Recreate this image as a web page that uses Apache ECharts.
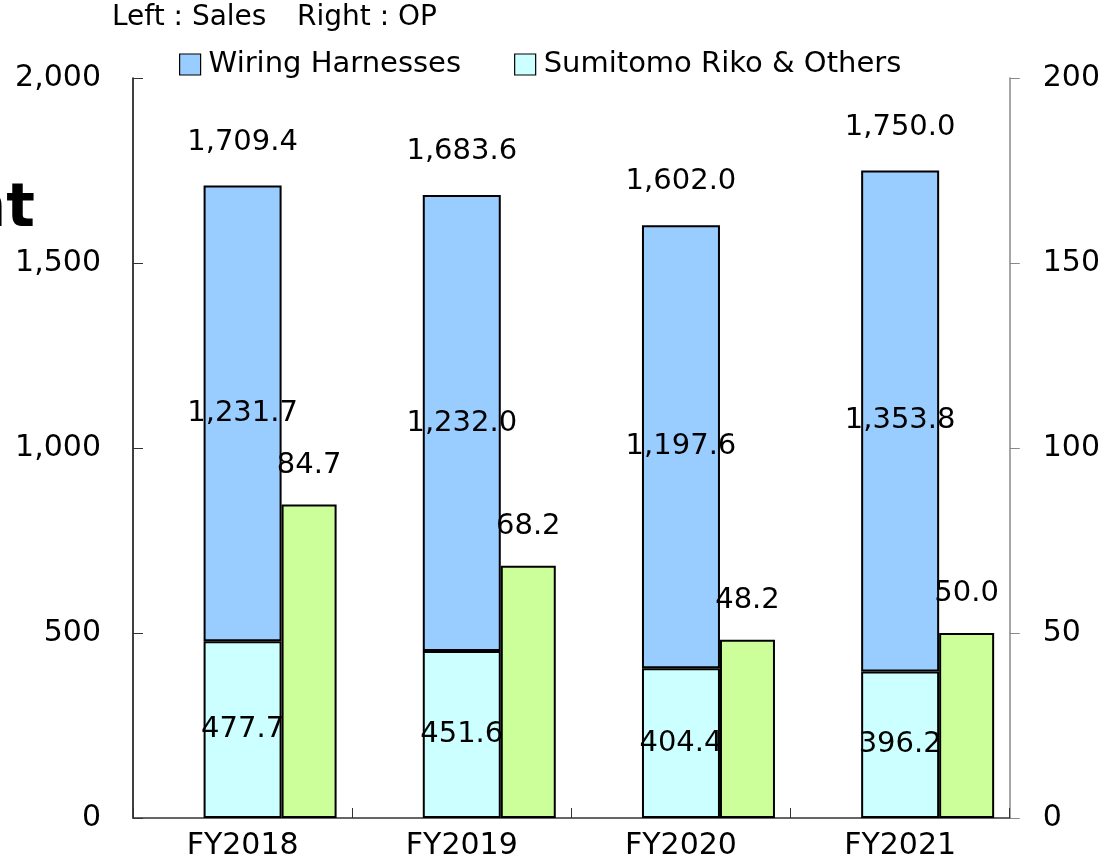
<!DOCTYPE html>
<html>
<head>
<meta charset="utf-8">
<script src="https://cdn.jsdelivr.net/npm/echarts@6/dist/echarts.min.js"></script>
<style>
html,body{margin:0;padding:0;background:#fff;}
#main{width:1103px;height:864px;}
</style>
</head>
<body>
<div id="main"></div>
<script>
var categories = ['FY2018', 'FY2019', 'FY2020', 'FY2021'];
var wiringHarnesses = [1231.7, 1232.0, 1197.6, 1353.8];
var sumitomoRiko = [477.7, 451.6, 404.4, 396.2];
var operatingProfit = [84.7, 68.2, 48.2, 50.0];
var leftTicks = [0, 500, 1000, 1500, 2000];
var rightTicks = [0, 50, 100, 150, 200];

var FONT = 'DejaVu Sans';
function fmt(v, grp) {
  return Number(v).toLocaleString('en-US', {minimumFractionDigits: 1, maximumFractionDigits: 1, useGrouping: grp});
}
var totals = categories.map(function (c, i) { return wiringHarnesses[i] + sumitomoRiko[i]; });

var chart = echarts.init(document.getElementById('main'), null, {renderer: 'canvas'});
var option = {
  animation: false,
  backgroundColor: '#ffffff',
  textStyle: {fontFamily: FONT, color: '#000'},
  grid: {left: 133, right: 93, top: 78, bottom: 46, containLabel: false},
  graphic: [
    {type: 'text', left: 112, top: 4, style: {text: 'Left : Sales', font: '28px "DejaVu Sans"', fill: '#000'}},
    {type: 'text', left: 297, top: 4, style: {text: 'Right : OP', font: '28px "DejaVu Sans"', fill: '#000'}},
    {type: 'text', x: 35, y: 240, style: {text: 'nt', font: 'bold 60px "DejaVu Sans"', fill: '#000', align: 'right', verticalAlign: 'bottom'}}
  ],
  legend: {
    data: ['Wiring Harnesses', 'Sumitomo Riko & Others'],
    left: 174, top: 45,
    icon: 'rect',
    itemWidth: 21, itemHeight: 21, itemGap: 53,
    itemStyle: {borderColor: '#000', borderWidth: 1.2},
    textStyle: {fontSize: 29, fontFamily: FONT, color: '#000', padding: [0, 0, 0, 3]}
  },
  xAxis: [
    {
      type: 'category', data: categories, gridIndex: 0,
      axisLine: {show: true, lineStyle: {color: '#333', width: 1.5}},
      axisTick: {show: true, inside: true, length: 10, lineStyle: {color: '#333'}},
      axisLabel: {fontSize: 30, color: '#000', margin: 13, fontFamily: FONT}
    },
    {
      type: 'category', data: categories, gridIndex: 0, show: false
    }
  ],
  yAxis: [
    {
      type: 'value', min: 0, max: 2000, interval: 500,
      axisLine: {show: true, lineStyle: {color: '#000', width: 1.5}},
      axisTick: {show: true, inside: true, length: 10, lineStyle: {color: '#333'}},
      splitLine: {show: false},
      axisLabel: {fontSize: 30, color: '#000', margin: 32, fontFamily: FONT,
        formatter: function (v) { return Number(v).toLocaleString('en-US'); }}
    },
    {
      type: 'value', min: 0, max: 200, interval: 50, position: 'right',
      axisLine: {show: true, lineStyle: {color: '#888', width: 1.5}},
      axisTick: {show: true, inside: false, length: 10, lineStyle: {color: '#888'}},
      splitLine: {show: false},
      axisLabel: {fontSize: 30, color: '#000', margin: 33, fontFamily: FONT}
    }
  ],
  series: [
    {
      name: 'Sumitomo Riko & Others', type: 'bar', stack: 'sales', xAxisIndex: 0, yAxisIndex: 0,
      data: sumitomoRiko, barWidth: 78, barGap: 0,
      itemStyle: {color: '#CCFFFF', borderColor: '#000', borderWidth: 2},
      label: {show: true, position: 'inside', fontSize: 29, color: '#000', fontFamily: FONT,
        formatter: function (p) { return fmt(p.value, true); }}
    },
    {
      name: 'Wiring Harnesses', type: 'bar', stack: 'sales', xAxisIndex: 0, yAxisIndex: 0,
      data: wiringHarnesses, barWidth: 78,
      itemStyle: {color: '#99CCFF', borderColor: '#000', borderWidth: 2},
      label: {show: true, position: 'inside', fontSize: 29, color: '#000', fontFamily: FONT,
        formatter: function (p) { return fmt(p.value, true); }}
    },
    {
      name: 'Total', type: 'bar', stack: 'sales', xAxisIndex: 0, yAxisIndex: 0,
      data: categories.map(function () { return 0; }), barWidth: 78, silent: true,
      itemStyle: {color: 'rgba(0,0,0,0)', borderWidth: 0},
      label: {show: true, position: 'top', distance: 29, fontSize: 29, color: '#000', fontFamily: FONT,
        formatter: function (p) { return fmt(totals[p.dataIndex], true); }}
    },
    {
      name: 'spacer', type: 'bar', xAxisIndex: 1, yAxisIndex: 1,
      data: categories.map(function () { return 0; }), barWidth: 133, barGap: 0, silent: true,
      itemStyle: {color: 'rgba(0,0,0,0)', borderWidth: 0}
    },
    {
      name: 'OP', type: 'bar', xAxisIndex: 1, yAxisIndex: 1,
      data: operatingProfit, barWidth: 55, barGap: 0,
      itemStyle: {color: '#CCFF99', borderColor: '#000', borderWidth: 2},
      label: {show: true, position: 'top', distance: 25, fontSize: 29, color: '#000', fontFamily: FONT,
        formatter: function (p) { return fmt(p.value, true); }}
    }
  ]
};
chart.setOption(option);
</script>
</body>
</html>
